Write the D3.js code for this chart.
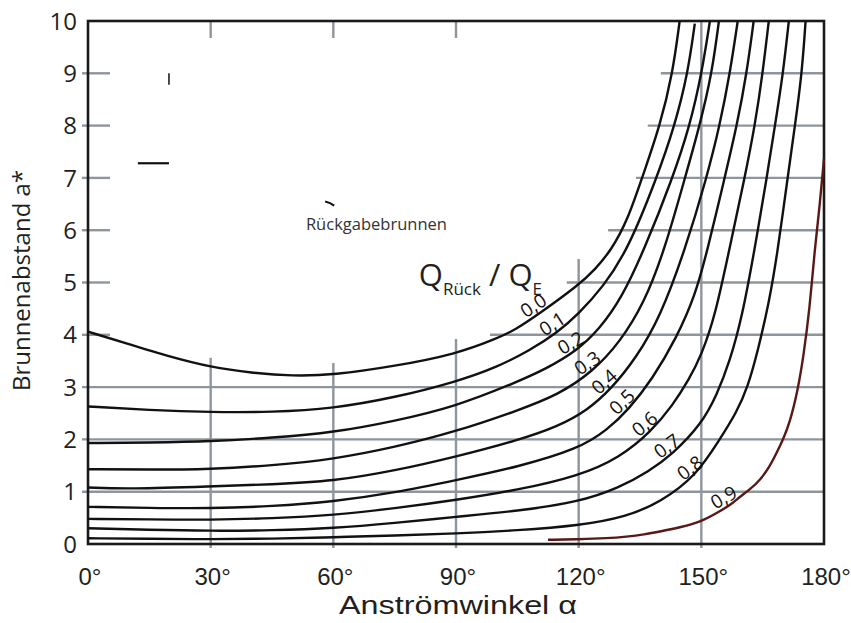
<!DOCTYPE html>
<html><head><meta charset="utf-8">
<script src="https://cdn.jsdelivr.net/npm/d3@7"></script>
<style>body{margin:0;background:#fff}svg{display:block}text{font-family:'Open Sans',sans-serif}</style>
</head><body>
<svg id="chart" width="851" height="623"></svg>
<script>
// ---- data ----
const angleTicks = [0, 30, 60, 90, 120, 150, 180];
const angleTickLabels = ["0°", "30°", "60°", "90°", "120°", "150°", "180°"];
const distTicks = [0, 1, 2, 3, 4, 5, 6, 7, 8, 9, 10];
const ratioLabels = ["0,0", "0,1", "0,2", "0,3", "0,4", "0,5", "0,6", "0,7", "0,8", "0,9"];

const curve00 = [[0,4.06],[10,3.82],[20,3.58],[30,3.38],[40,3.27],[50,3.21],[60,3.23],[75,3.40],[90,3.63],[100,3.93],[104.4,4.09],[110.3,4.40],[120,4.95],[124,5.25],[128,5.62],[132,6.2],[135.5,7.0],[139.9,8.0],[143.0,9.0],[144.7,10]];
const curve01 = [[0,2.63],[15,2.56],[30,2.52],[45,2.52],[60,2.59],[75,2.80],[90,3.10],[100,3.38],[108,3.70],[114.9,4.05],[120,4.40],[126,4.92],[132,5.62],[139.1,7.0],[143.5,8.0],[146.7,9.0],[148.4,9.95]];
const curve02 = [[0,1.93],[15,1.94],[30,1.96],[45,2.03],[60,2.13],[75,2.35],[90,2.63],[105,3.10],[112,3.35],[119.3,3.68],[125,4.10],[130.5,4.70],[136,5.62],[143,7.0],[147.2,8.0],[150.1,9.0],[152.1,10]];
const curve03 = [[0,1.43],[15,1.42],[30,1.43],[45,1.50],[60,1.62],[75,1.85],[90,2.15],[105,2.55],[115,2.85],[123.5,3.30],[130,3.85],[136,4.60],[141,5.62],[146,7.0],[149.6,8.0],[152.6,9.0],[154.3,10]];
const curve04 = [[0,1.08],[10,1.05],[30,1.10],[45,1.14],[60,1.20],[75,1.40],[90,1.67],[105,1.98],[115,2.25],[122,2.55],[127.9,2.96],[134,3.55],[140,4.35],[146,5.62],[151.3,7.0],[154.5,8.0],[157,9.0],[158.9,10]];
const curve05 = [[0,0.71],[15,0.69],[30,0.68],[45,0.72],[60,0.81],[75,0.98],[90,1.22],[105,1.47],[120,1.82],[127,2.18],[132.3,2.58],[138,3.15],[144,3.95],[148.5,4.75],[151.5,5.62],[155.7,7.0],[158.7,8.0],[161.1,9.0],[162.8,10]];
const curve06 = [[0,0.48],[15,0.47],[30,0.46],[45,0.49],[60,0.55],[75,0.68],[90,0.84],[105,1.03],[120,1.30],[130,1.65],[137.7,2.15],[143,2.65],[147,3.15],[150,3.60],[153.5,4.40],[156.8,5.62],[160.6,7.0],[163.1,8.0],[165,9.0],[166.5,10]];
const curve07 = [[0,0.30],[15,0.27],[30,0.25],[45,0.26],[60,0.30],[75,0.40],[90,0.52],[105,0.63],[120,0.80],[130,1.08],[137,1.38],[143,1.72],[150,2.29],[153.8,2.85],[157,3.50],[160,4.35],[163,5.62],[166,7.0],[168,8.0],[170,9.0],[171.4,10]];
const curve08 = [[0,0.11],[15,0.10],[30,0.09],[45,0.10],[60,0.13],[75,0.16],[90,0.20],[105,0.26],[120,0.35],[131.7,0.52],[140,0.80],[148.7,1.30],[154.5,2.0],[158.5,2.5],[161.4,3.0],[164,3.75],[166.5,4.6],[168.5,5.5],[171.1,7.0],[172.9,8.0],[174.6,9.0],[175.5,10]];
const curve09 = [[112.5,0.08],[120,0.09],[127,0.11],[131.7,0.14],[136,0.18],[140,0.24],[145,0.32],[150,0.43],[153.7,0.59],[157,0.74],[159.4,0.90],[162,1.05],[164.3,1.22],[166.5,1.45],[168.4,1.74],[170,2.0],[171.6,2.31],[173.6,2.94],[175,3.6],[176.5,4.5],[177.7,5.62],[179,6.5],[180,7.37]];
const curves = [curve00, curve01, curve02, curve03, curve04, curve05, curve06, curve07, curve08, curve09];
const labelAt = [110.3, 114.9, 119.3, 123.5, 127.9, 132.3, 137.7, 143.0, 148.7, 156.7];

// horizontal grid: [value, start angle]; vertical grid: [angle, top value]
const hGrid = [[1,0],[2,0],[3,0],[4,98.3],[5,117.1],[6,127.2],[7,134.0],[8,136.9],[9,140.1]];
const vGrid = [[30,3.56],[60,3.46],[90,3.92],[120,5.45],[150,10]];
const leftTicks = [4,5,6,7,8,9];
const topTicks = [30,60,90];

// ---- drawing ----
const svg = d3.select("#chart");
const x = d3.scaleLinear().domain([0,180]).range([88,824]);
const y = d3.scaleLinear().domain([0,10]).range([544,21]);
const gridColor = "#8e959b";
const ink = "#231f20";
const g = svg.append("g");

// grid
g.selectAll(".hg").data(hGrid).join("line")
  .attr("x1", d => d[1] === 0 ? x(0) - 6 : x(d[1])).attr("x2", x(180))
  .attr("y1", d => y(d[0])).attr("y2", d => y(d[0]))
  .attr("stroke", gridColor).attr("stroke-width", 2.4);
g.selectAll(".lt").data(leftTicks).join("line")
  .attr("x1", x(0) - 6).attr("x2", x(0) + 22)
  .attr("y1", d => y(d)).attr("y2", d => y(d))
  .attr("stroke", gridColor).attr("stroke-width", 2.4);
g.selectAll(".vg").data(vGrid).join("line")
  .attr("x1", d => x(d[0])).attr("x2", d => x(d[0]))
  .attr("y1", d => y(d[1])).attr("y2", y(0) + 4)
  .attr("stroke", gridColor).attr("stroke-width", 2.4);
g.selectAll(".tt").data(topTicks).join("line")
  .attr("x1", d => x(d)).attr("x2", d => x(d))
  .attr("y1", y(10)).attr("y2", y(10) + 17)
  .attr("stroke", gridColor).attr("stroke-width", 2.4);

// frame
g.append("rect").attr("x", x(0)).attr("y", y(10))
  .attr("width", x(180) - x(0)).attr("height", y(0) - y(10))
  .attr("fill", "none").attr("stroke", "#1a1a1a").attr("stroke-width", 2.6);

// curves
const line = d3.line().x(d => x(d[0])).y(d => y(d[1])).curve(d3.curveBasis);
g.selectAll(".curve").data(curves).join("path")
  .attr("d", line).attr("fill", "none")
  .attr("stroke", (d, i) => i === 9 ? "#5a1717" : "#111")
  .attr("stroke-width", 2.4).attr("stroke-linejoin", "round");

// labels along curves
function labelPos(c, a) {
  for (let k = 0; k < c.length - 1; k++) {
    if (a >= c[k][0] && a <= c[k+1][0]) {
      const t = (a - c[k][0]) / (c[k+1][0] - c[k][0]);
      const v = c[k][1] + t * (c[k+1][1] - c[k][1]);
      const dx = x(c[k+1][0]) - x(c[k][0]), dy = y(c[k+1][1]) - y(c[k][1]);
      const len = Math.hypot(dx, dy);
      const nx = dy / len, ny = -dx / len;
      return {px: x(a) + nx * 10, py: y(v) + ny * 10, ang: Math.atan2(dy, dx) * 180 / Math.PI};
    }
  }
}
ratioLabels.forEach((lab, i) => {
  const p = labelPos(curves[i], labelAt[i]);
  g.append("text").attr("transform", `translate(${p.px},${p.py}) rotate(${p.ang})`)
    .attr("text-anchor", "middle").attr("dy", "0.35em")
    .attr("font-size", 19).attr("fill", "#111").text(lab);
});

// tick labels
g.selectAll(".yl").data(distTicks).join("text")
  .attr("x", x(0) - 11).attr("y", d => y(d)).attr("dy", "0.36em")
  .attr("text-anchor", "end").attr("font-size", 24).attr("fill", ink).text(d => d);
g.selectAll(".xl").data(angleTicks).join("text")
  .attr("x", d => x(d) + 2).attr("y", 585)
  .attr("text-anchor", "middle").attr("font-size", 24).attr("fill", ink)
  .style("font-family", "'Liberation Sans', sans-serif")
  .text((d, i) => angleTickLabels[i]);

// axis titles
svg.append("text").attr("x", 458).attr("y", 614)
  .attr("text-anchor", "middle").attr("font-size", 26).attr("fill", ink)
  .style("font-family", "'Liberation Sans', sans-serif")
  .attr("textLength", 238).attr("lengthAdjust", "spacingAndGlyphs")
  .text("Anströmwinkel α");
svg.append("text").attr("transform", `translate(30,${(y(0) + y(10)) / 2 - 2}) rotate(-90)`)
  .attr("text-anchor", "middle").attr("font-size", 24).attr("fill", ink).text("Brunnenabstand a*");

// annotations
const q = svg.append("text").attr("x", x(80.9)).attr("y", y(4.93)).attr("fill", ink);
q.append("tspan").attr("font-size", 31).text("Q");
q.append("tspan").attr("font-size", 17).attr("dy", 9).text("Rück");
q.append("tspan").attr("font-size", 31).attr("dy", -9).text(" / Q");
q.append("tspan").attr("font-size", 17).attr("dy", 9).text("E");
svg.append("text").attr("x", x(53.3)).attr("y", y(6.0)).attr("font-size", 16.5)
  .attr("fill", "#333").text("Rückgabebrunnen");

// remnants of the inset sketch
svg.append("line").attr("x1", x(19.8)).attr("x2", x(19.8)).attr("y1", y(9.0)).attr("y2", y(8.78))
  .attr("stroke", "#111").attr("stroke-width", 1.5);
svg.append("line").attr("x1", x(12.2)).attr("x2", x(19.8)).attr("y1", y(7.28)).attr("y2", y(7.28))
  .attr("stroke", "#111").attr("stroke-width", 2.2);
svg.append("path").attr("d", `M${x(58)},${y(6.55)} Q${x(59.3)},${y(6.53)} ${x(60.2)},${y(6.47)}`)
  .attr("stroke", "#111").attr("stroke-width", 2).attr("fill", "none");
</script>
</body></html>
